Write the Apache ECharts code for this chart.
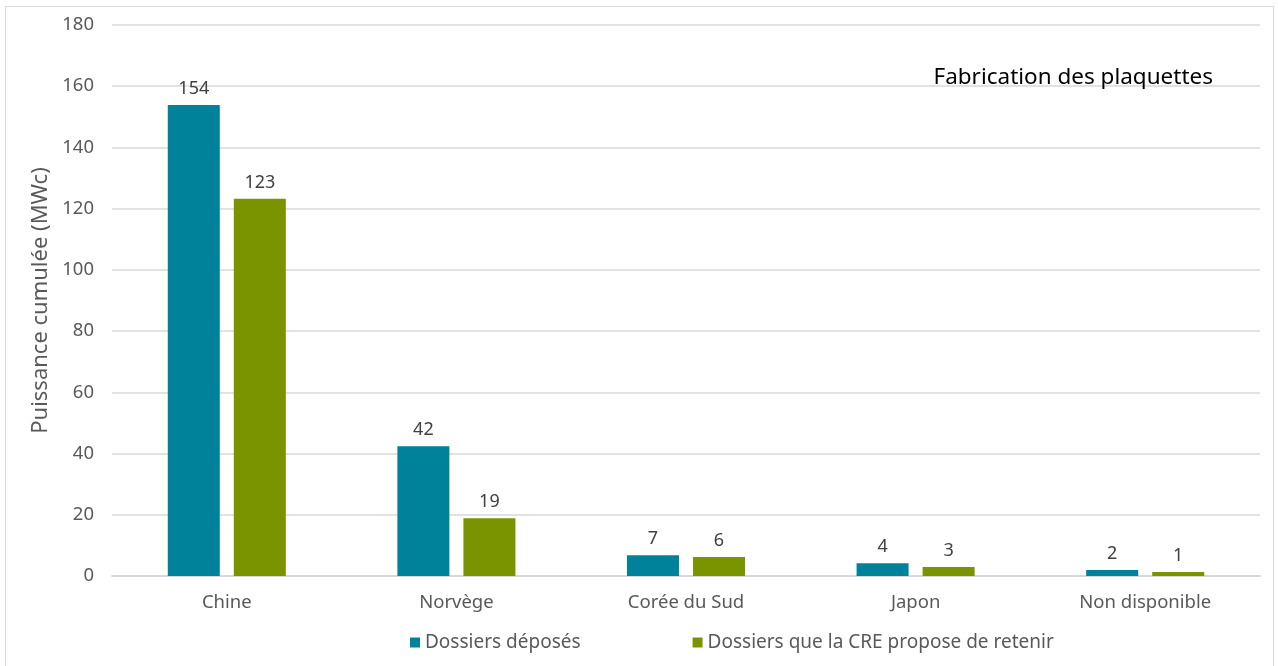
<!DOCTYPE html>
<html>
<head>
<meta charset="utf-8">
<script src="https://cdn.jsdelivr.net/npm/echarts@6/dist/echarts.min.js"></script>
<style>
html,body{margin:0;padding:0;background:#fff;}
#frame{position:absolute;left:5px;top:6px;width:1269px;height:670px;border:1px solid #d9d9d9;box-sizing:border-box;}
#chart{position:absolute;left:0;top:0;width:1278px;height:666px;}
</style>
</head>
<body>
<div id="frame"></div>
<div id="chart"></div>
<script>
// données
var categories = ['Chine', 'Norvège', 'Corée du Sud', 'Japon', 'Non disponible'];
var deposes = [153.9, 42.4, 6.8, 4.2, 2.0];
var retenus = [123.2, 18.9, 6.2, 2.9, 1.3];
var seriesNames = ['Dossiers déposés', 'Dossiers que la CRE propose de retenir'];

var font = 'Noto Sans';
var myChart = echarts.init(document.getElementById('chart'));
var option = {
    animation: false,
    title: {text: 'Fabrication des plaquettes', right: 60, top: 61,
        textStyle: {fontFamily: font, fontSize: 22.5, fontWeight: 'normal', color: '#000'}},
    legend: {bottom: 9, left: 405, itemWidth: 10, itemHeight: 10, itemGap: 112,
        icon: 'rect', textStyle: {fontFamily: font, fontSize: 19, color: '#595959'},
        data: seriesNames},
    grid: {left: 112, right: 18, top: 25, bottom: 90},
    xAxis: {type: 'category', data: categories,
        axisLine: {lineStyle: {color: '#d9d9d9', width: 2}}, axisTick: {show: false},
        axisLabel: {fontFamily: font, fontSize: 18.5, color: '#595959', margin: 17}},
    yAxis: {type: 'value', min: 0, max: 180, interval: 20,
        name: 'Puissance cumulée (MWc)', nameLocation: 'middle', nameGap: 56,
        nameTextStyle: {fontFamily: font, fontSize: 22, color: '#595959'},
        axisLabel: {fontFamily: font, fontSize: 18.5, color: '#595959', margin: 18},
        splitLine: {lineStyle: {color: '#d9d9d9', width: 1.5}}},
    series: [
        {name: seriesNames[0], type: 'bar', data: deposes, barWidth: 52, barGap: '27%',
            itemStyle: {color: '#00829a'},
            label: {show: true, position: 'top', distance: 7, fontFamily: font, fontSize: 18, color: '#404040',
                formatter: function (p) { return Math.round(p.value); }}},
        {name: seriesNames[1], type: 'bar', data: retenus, barWidth: 52,
            itemStyle: {color: '#7a9400'},
            label: {show: true, position: 'top', distance: 7, fontFamily: font, fontSize: 18, color: '#404040',
                formatter: function (p) { return Math.round(p.value); }}}
    ]
};
myChart.setOption(option);
</script>
</body>
</html>
